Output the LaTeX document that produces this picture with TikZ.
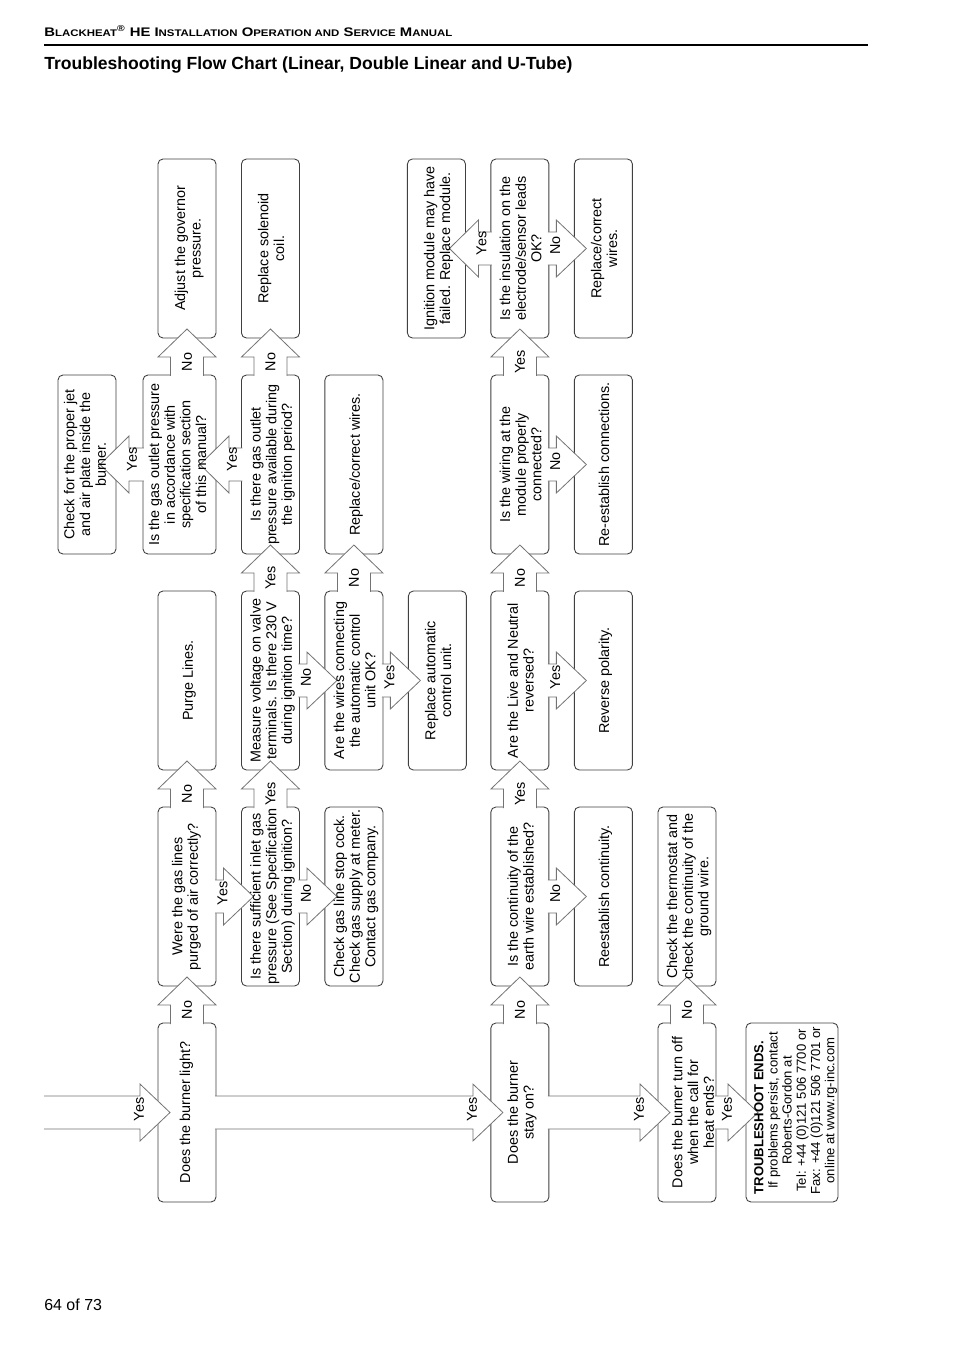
\documentclass[tikz,border=0pt]{standalone}
\usepackage{fontspec}
\setmainfont{Liberation Sans}
\usepackage{tikz}
\usetikzlibrary{positioning, calc}

\newcommand{\vtxt}[1]{\rotatebox{90}{\begin{tabular}{@{}c@{}}#1\end{tabular}}}
\newcommand{\fsc}[1]{{\fontsize{6}{7}\selectfont #1}}

% block arrows: up from box #1 into box #2, right/left from a point into box #2
\newcommand{\arrup}[3]{%
  \draw[blockarrow] ($(#2.south |- #1.north)+(-16.5,1)$) -- ($(#2.south)+(-16.5,19)$) -- ($(#2.south)+(-29,19)$) -- ($(#2.south)+(0,-9)$) -- ($(#2.south)+(29,19)$) -- ($(#2.south)+(16.5,19)$) -- ($(#2.south |- #1.north)+(16.5,1)$);
  \node[answer] (l-#2) at ($(#2.south |- #1.north)+(0,-13)$) {\rotatebox{90}{#3}};
}
\newcommand{\arrright}[3]{%
  \draw[blockarrow] ($(#1)+(-1,-16.5)$) -- ($(#2.west)+(-18,-16.5)$) -- ($(#2.west)+(-18,-28.5)$) -- ($(#2.west)+(12,0)$) -- ($(#2.west)+(-18,28.5)$) -- ($(#2.west)+(-18,16.5)$) -- ($(#1)+(-1,16.5)$);
  \node[answer] (l-#2) at ($(#2.west)+(-19,-3)$) {\rotatebox{90}{#3}};
}
\newcommand{\arrleft}[3]{%
  \draw[blockarrow] ($(#1)+(1,-16.5)$) -- ($(#2.east)+(13,-16.5)$) -- ($(#2.east)+(13,-28.5)$) -- ($(#2.east)+(-16,0)$) -- ($(#2.east)+(13,28.5)$) -- ($(#2.east)+(13,16.5)$) -- ($(#1)+(1,16.5)$);
  \node[answer] (l-#2) at ($(#2.east)+(16,-5)$) {\rotatebox{90}{#3}};
}

\begin{document}
\begin{tikzpicture}[
    x=0.2201mm, y=-0.2201mm,
    node distance=8.14mm and 5.6mm,
    box/.style={rectangle, rounded corners=1.1mm, draw=black!75, line width=0.55pt, fill=white, minimum width=12.77mm, minimum height=39.4mm, inner sep=0pt, outer sep=0pt},
    widebox/.style={box, minimum width=16.07mm},
    endbox/.style={box, minimum width=20.25mm},
    boxtext/.style={inner sep=0pt, font=\fontsize{9}{9.8}\selectfont},
    shifted/.style={boxtext, xshift=0.6mm},
    endtext/.style={inner sep=0pt, font=\fontsize{8.2}{8.9}\selectfont},
    blockarrow/.style={draw=black!55, line width=0.5pt, fill=white, line join=miter},
    answer/.style={inner sep=0pt, font=\fontsize{9}{10}\selectfont}
  ]
  \useasboundingbox (0,0) rectangle (954,1350);

  % page header and title
  \node[anchor=base west, inner sep=0pt] (header) at (44,36.5) {\resizebox{89.8mm}{\height}{\fontsize{7.8}{9}\selectfont\bfseries B\fsc{LACKHEAT}\textsuperscript{\textregistered} HE I\fsc{NSTALLATION} O\fsc{PERATION AND} S\fsc{ERVICE} M\fsc{ANUAL}}};
  \draw[line width=0.7pt] (44,45) -- (868,45);
  \node[anchor=base west, inner sep=0pt] (title) at (44,69) {\resizebox{116.2mm}{\height}{\fontsize{11}{13}\selectfont\bfseries Troubleshooting Flow Chart (Linear, Double Linear and U-Tube)}};
  \node[anchor=base west, inner sep=0pt] (pagenum) at (44,1310) {\fontsize{10}{12}\selectfont 64 of 73};

  % boxes: does the burner light?
  \node[box] (light) at (187,1112.5) {};
  \node[box, above=of light] (purged) {};
  \node[box, above=of purged] (purge) {};
  \node[widebox, above=8.14mm of purge.north east, anchor=south east] (outlet) {};
  \node[box, above=8.14mm of outlet.north east, anchor=south east] (governor) {};
  \node[box, left=5.94mm of outlet] (jet) {};

  % gas supply and control unit
  \node[box, right=of purged] (inlet) {};
  \node[box, right=of purge] (voltage) {};
  \node[box, above=of voltage] (outavail) {};
  \node[box, above=of outavail] (solenoid) {};
  \node[box, right=of inlet] (stopcock) {};
  \node[box, right=of voltage] (wires) {};
  \node[box, above=of wires] (rewire) {};
  \node[box, right=of wires] (acu) {};

  % does the burner stay on?
  \node[box, right=60.5mm of light] (stayon) {};
  \node[box, above=of stayon] (earth) {};
  \node[box, above=of earth] (livneu) {};
  \node[box, above=of livneu] (modwire) {};
  \node[box, above=of modwire] (insul) {};
  \node[box, left=of insul] (ignmod) {};
  \node[box, right=of earth] (recont) {};
  \node[box, right=of livneu] (revpol) {};
  \node[box, right=of modwire] (reconn) {};
  \node[box, right=of insul] (newwires) {};

  % does the burner turn off?
  \node[box, right=24mm of stayon] (turnoff) {};
  \node[box, above=of turnoff] (thermo) {};
  \node[endbox, right=6.6mm of turnoff] (ends) {};

  % arrows
  \coordinate (feed) at (45,1112.5);
  \arrright{feed}{light}{Yes}
  \arrup{light}{purged}{No}
  \arrright{light.east}{stayon}{Yes}
  \arrup{purged}{purge}{No}
  \arrright{purged.east}{inlet}{Yes}
  \arrup{outlet}{governor}{No}
  \arrleft{outlet.west}{jet}{Yes}
  \arrup{inlet}{voltage}{Yes}
  \arrright{inlet.east}{stopcock}{No}
  \arrup{voltage}{outavail}{Yes}
  \arrright{voltage.east}{wires}{No}
  \arrup{outavail}{solenoid}{No}
  \arrleft{outavail.west}{outlet}{Yes}
  \arrup{wires}{rewire}{No}
  \arrright{wires.east}{acu}{Yes}
  \arrup{stayon}{earth}{No}
  \arrright{stayon.east}{turnoff}{Yes}
  \arrup{earth}{livneu}{Yes}
  \arrright{earth.east}{recont}{No}
  \arrup{livneu}{modwire}{No}
  \arrright{livneu.east}{revpol}{Yes}
  \arrup{modwire}{insul}{Yes}
  \arrright{modwire.east}{reconn}{No}
  \arrleft{insul.west}{ignmod}{Yes}
  \arrright{insul.east}{newwires}{No}
  \arrup{turnoff}{thermo}{No}
  \arrright{turnoff.east}{ends}{Yes}

  % box texts, on top of the arrow heads
  \node[boxtext] (light-t) at (light) {\vtxt{Does the burner light?}};
  \node[boxtext] (purged-t) at (purged) {\vtxt{Were the gas lines\\purged of air correctly?}};
  \node[shifted] (purge-t) at (purge) {\vtxt{Purge Lines.}};
  \node[boxtext] (outlet-t) at (outlet) {\vtxt{Is the gas outlet pressure\\in accordance with\\specification section\\of this manual?}};
  \node[shifted] (governor-t) at (governor) {\vtxt{Adjust the governor\\pressure.}};
  \node[boxtext] (jet-t) at (jet) {\vtxt{Check for the proper jet\\and air plate inside the\\burner.}};
  \node[shifted] (inlet-t) at (inlet) {\vtxt{Is there sufficient inlet gas\\pressure (See Specification\\Section) during ignition?}};
  \node[shifted] (voltage-t) at (voltage) {\vtxt{Measure voltage on valve\\terminals. Is there 230 V\\during ignition time?}};
  \node[shifted] (outavail-t) at (outavail) {\vtxt{Is there gas outlet\\pressure available during\\the ignition period?}};
  \node[shifted] (solenoid-t) at (solenoid) {\vtxt{Replace solenoid\\coil.}};
  \node[shifted] (stopcock-t) at (stopcock) {\vtxt{Check gas line stop cock.\\Check gas supply at meter.\\Contact gas company.}};
  \node[shifted] (wires-t) at (wires) {\vtxt{Are the wires connecting\\the automatic control\\unit OK?}};
  \node[shifted] (rewire-t) at (rewire) {\vtxt{Replace/correct wires.}};
  \node[shifted] (acu-t) at (acu) {\vtxt{Replace automatic\\control unit.}};
  \node[shifted] (stayon-t) at (stayon) {\vtxt{Does the burner\\stay on?}};
  \node[shifted] (earth-t) at (earth) {\vtxt{Is the continuity of the\\earth wire established?}};
  \node[shifted] (livneu-t) at (livneu) {\vtxt{Are the Live and Neutral\\reversed?}};
  \node[shifted] (modwire-t) at (modwire) {\vtxt{Is the wiring at the\\module properly\\connected?}};
  \node[shifted] (insul-t) at (insul) {\vtxt{Is the insulation on the\\electrode/sensor leads\\OK?}};
  \node[shifted] (ignmod-t) at (ignmod) {\vtxt{Ignition module may have\\failed. Replace module.}};
  \node[shifted] (recont-t) at (recont) {\vtxt{Reestablish continuity.}};
  \node[shifted] (revpol-t) at (revpol) {\vtxt{Reverse polarity.}};
  \node[shifted] (reconn-t) at (reconn) {\vtxt{Re-establish connections.}};
  \node[shifted] (newwires-t) at (newwires) {\vtxt{Replace/correct\\wires.}};
  \node[boxtext] (turnoff-t) at ($(turnoff)+(8,0)$) {\vtxt{Does the burner turn off\\when the call for\\heat ends?}};
  \node[shifted] (thermo-t) at (thermo) {\vtxt{Check the thermostat and\\check the continuity of the\\ground wire.}};
  \node[endtext] (ends-t) at ($(ends)+(4,-2)$) {\vtxt{\multicolumn{1}{@{}l@{}}{\textbf{TROUBLESHOOT ENDS.}}\\If problems persist, contact\\Roberts-Gordon at\\Tel: +44 (0)121 506 7700 or\\Fax: +44 (0)121 506 7701 or\\online at www.rg-inc.com}};
\end{tikzpicture}
\end{document}
